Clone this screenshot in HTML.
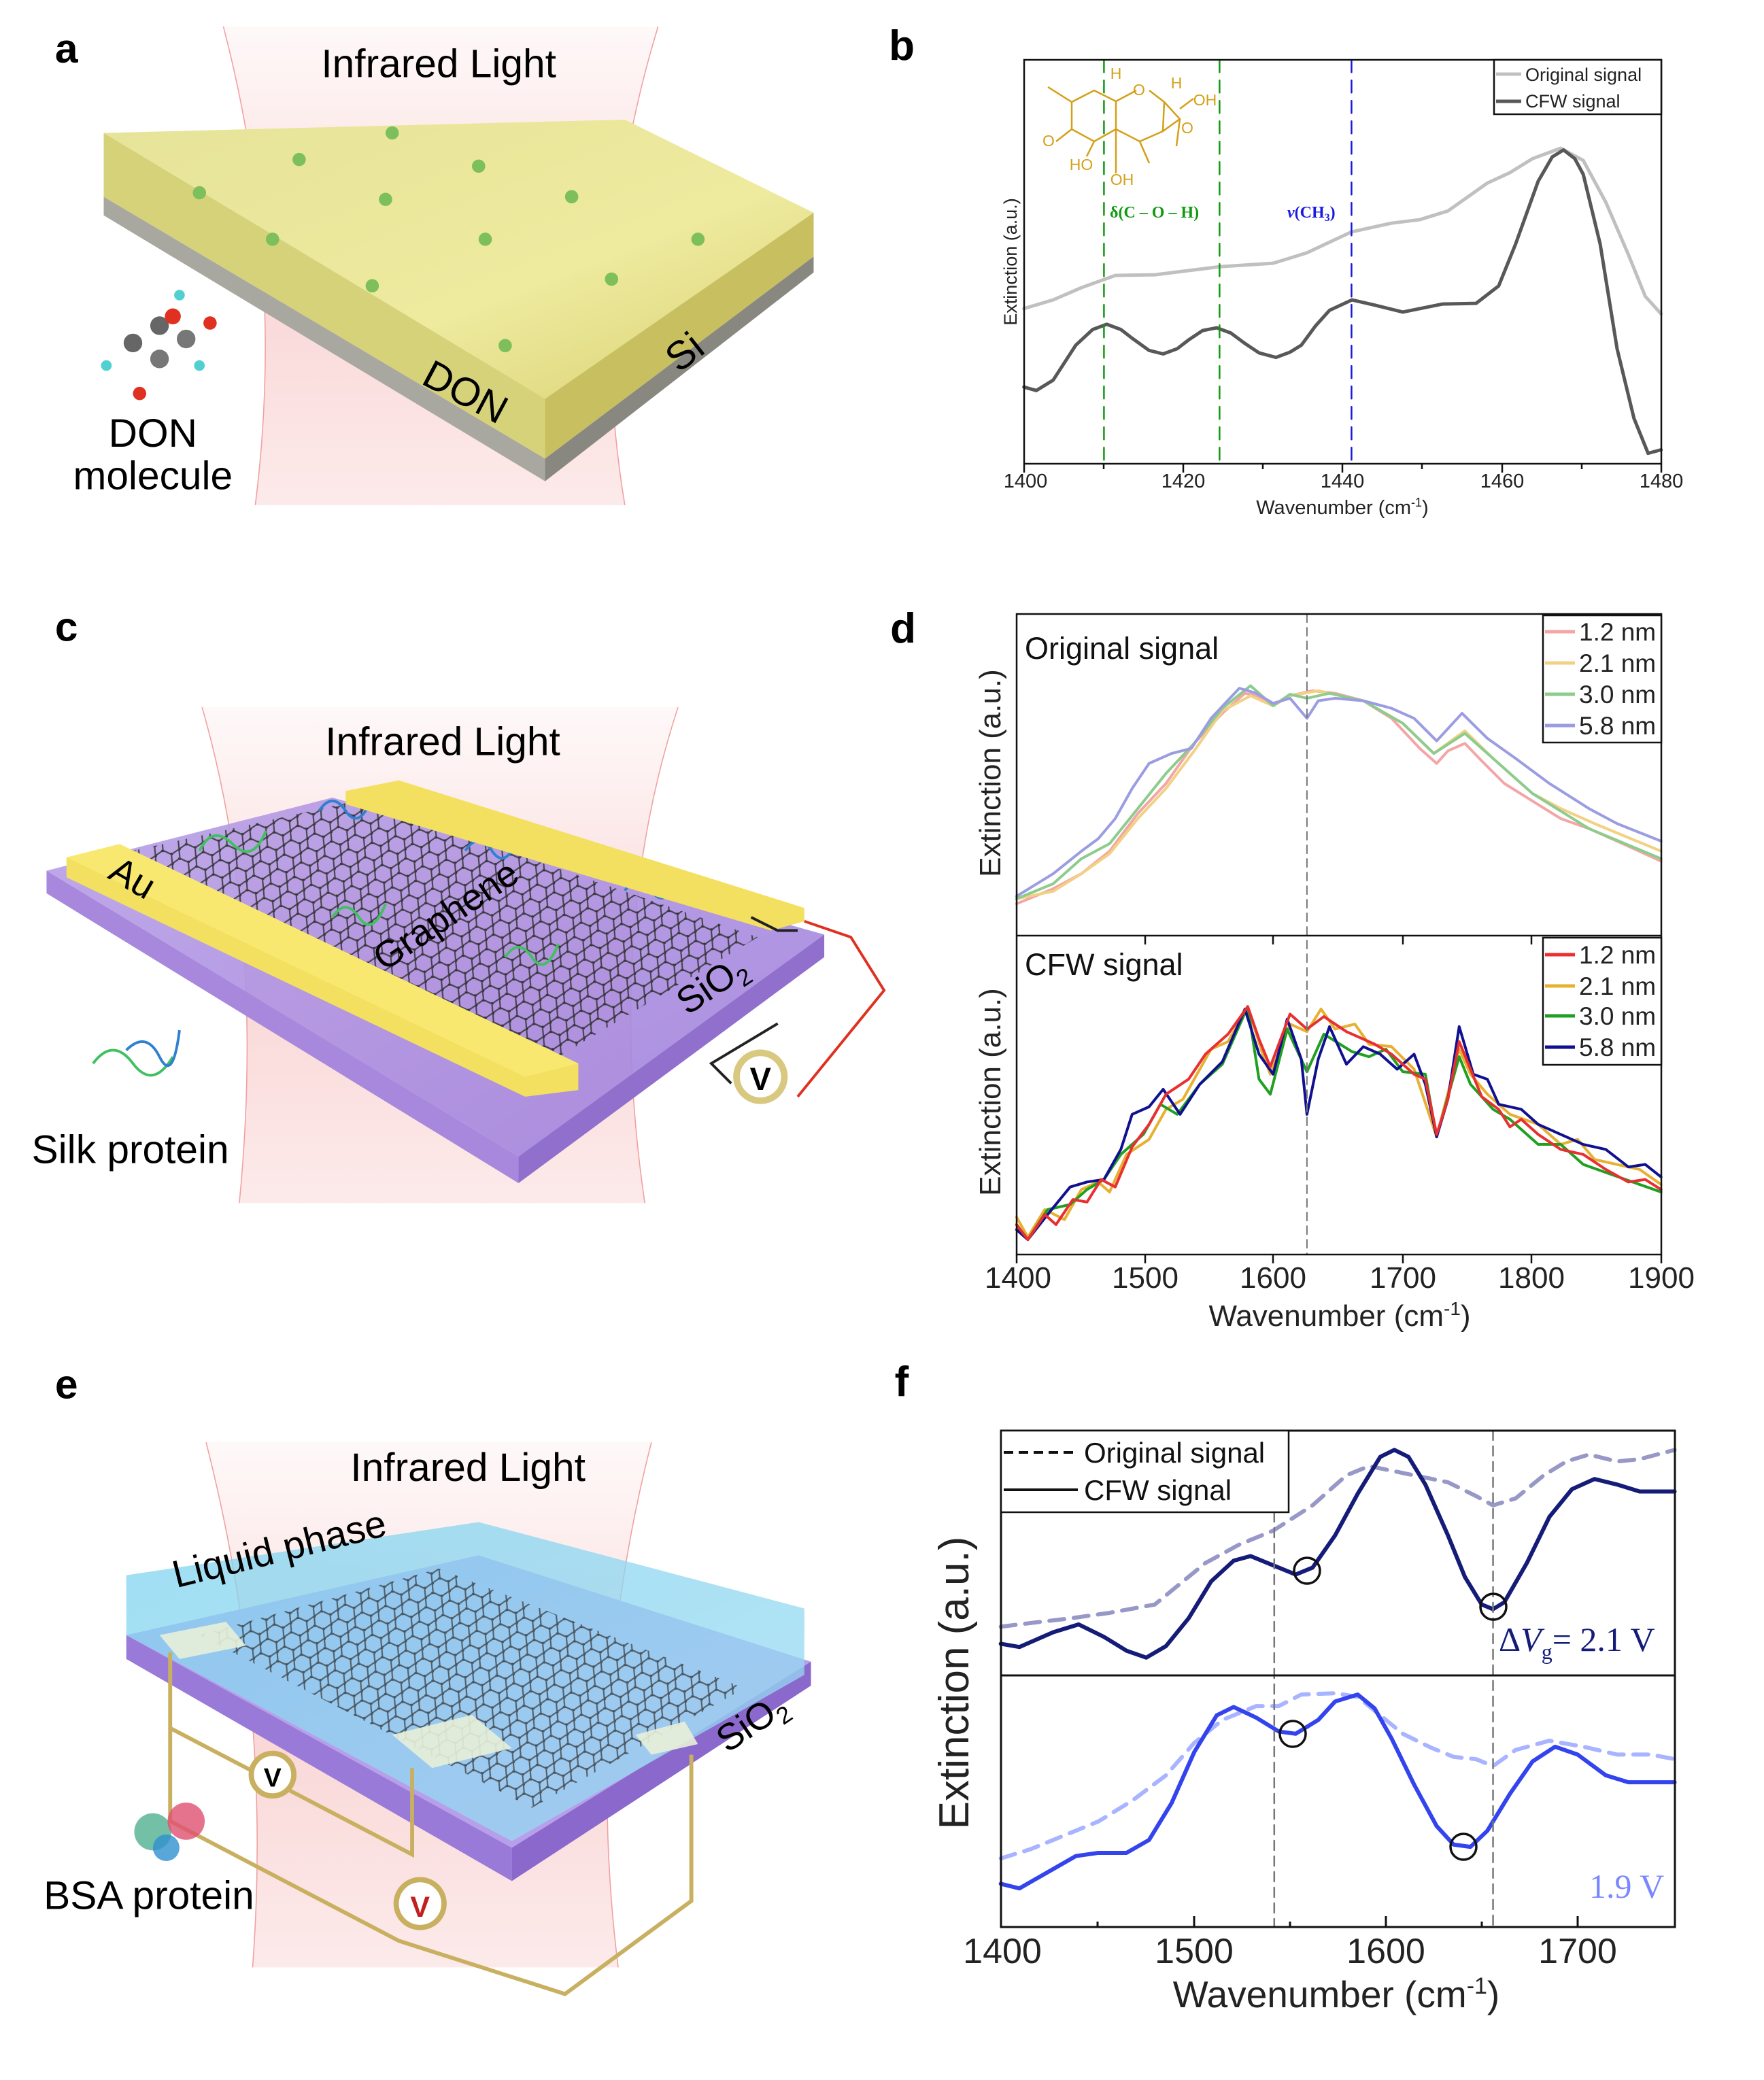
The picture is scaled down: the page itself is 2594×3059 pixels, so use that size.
<!DOCTYPE html>
<html><head><meta charset="utf-8"><style>
html,body{margin:0;padding:0;background:#fff;}
svg{display:block;font-family:"Liberation Sans",Arial,sans-serif;}
.np{vector-effect:non-scaling-stroke;fill:none;stroke-linejoin:round;stroke-linecap:round;}
</style></head><body>
<svg width="2594" height="3059" viewBox="0 0 2594 3059" xmlns="http://www.w3.org/2000/svg">
<defs>
<linearGradient id="cone" x1="0" y1="0" x2="0" y2="1">
<stop offset="0" stop-color="#fde8e8" stop-opacity="0.3"/><stop offset="0.5" stop-color="#f9d4d4"/><stop offset="1" stop-color="#fbdcdc" stop-opacity="0.6"/></linearGradient>
<linearGradient id="yel" x1="0" y1="0" x2="1" y2="1"><stop offset="0" stop-color="#e6e49a"/><stop offset="0.6" stop-color="#eeea9e"/><stop offset="1" stop-color="#d8d070"/></linearGradient>
<linearGradient id="pur" x1="0" y1="0" x2="1" y2="1"><stop offset="0" stop-color="#b9a0e6"/><stop offset="1" stop-color="#9f7fdc"/></linearGradient>
<linearGradient id="water" x1="0" y1="0" x2="1" y2="1"><stop offset="0" stop-color="#7fd4f0"/><stop offset="1" stop-color="#9fdaf2"/></linearGradient>
<pattern id="hex" width="14" height="12" patternUnits="userSpaceOnUse" patternTransform="rotate(25)">
<path d="M0 6 L3.5 0 L10.5 0 L14 6 L10.5 12 L3.5 12 Z" fill="none" stroke="#333" stroke-width="1.1"/>
<circle cx="3.5" cy="0" r="1.3" fill="#222"/><circle cx="10.5" cy="12" r="1.3" fill="#222"/><circle cx="0" cy="6" r="1.3" fill="#222"/></pattern>
</defs>

<!-- ===== LEFT ILLUSTRATIONS (overview coords x1.955) ===== -->
<g transform="scale(1.955)">
<!-- panel a -->
<path d="M168 20 Q215 200 192 380 L470 380 Q440 200 495 20 Z" fill="url(#cone)"/>
<path d="M168 20 Q215 200 192 380 M495 20 Q440 200 470 380" fill="none" stroke="#f0a0a0" stroke-width="0.8"/>
<polygon points="78,100 470,90 612,160 410,300" fill="url(#yel)"/>
<polygon points="78,100 410,300 410,345 78,148" fill="#d6d27a"/>
<polygon points="410,300 612,160 612,193 410,345" fill="#c8c060"/>
<polygon points="78,148 410,345 410,362 78,162" fill="#a8a8a0"/>
<polygon points="410,345 612,193 612,205 410,362" fill="#888880"/>
<g fill="#7dbf5a"><circle cx="150" cy="145" r="5"/><circle cx="205" cy="180" r="5"/><circle cx="290" cy="150" r="5"/><circle cx="360" cy="125" r="5"/><circle cx="430" cy="148" r="5"/><circle cx="280" cy="215" r="5"/><circle cx="460" cy="210" r="5"/><circle cx="380" cy="260" r="5"/><circle cx="525" cy="180" r="5"/><circle cx="365" cy="180" r="5"/><circle cx="225" cy="120" r="5"/><circle cx="295" cy="100" r="5"/></g>
<g><circle cx="100" cy="258" r="7" fill="#666"/><circle cx="120" cy="245" r="7" fill="#666"/><circle cx="140" cy="255" r="7" fill="#777"/><circle cx="130" cy="238" r="6" fill="#e03020"/><circle cx="105" cy="296" r="5" fill="#e03020"/><circle cx="158" cy="243" r="5" fill="#e03020"/><circle cx="80" cy="275" r="4" fill="#50d0d0"/><circle cx="150" cy="275" r="4" fill="#50d0d0"/><circle cx="120" cy="270" r="7" fill="#777"/><circle cx="135" cy="222" r="4" fill="#50d0d0"/></g>
<text x="50" y="47" font-size="31" font-weight="bold" text-anchor="middle">a</text>
<text x="330" y="58" font-size="30" text-anchor="middle">Infrared Light</text>
<text x="115" y="336" font-size="30" text-anchor="middle">DON</text>
<text x="115" y="368" font-size="30" text-anchor="middle">molecule</text>
<text x="350" y="305" font-size="30" text-anchor="middle" transform="rotate(28 350 295)">DON</text>
<text x="515" y="275" font-size="30" text-anchor="middle" transform="rotate(-38 515 265)">Si</text>

<!-- panel c -->
<path d="M152 532 Q200 700 180 905 L485 905 Q455 700 510 532 Z" fill="url(#cone)"/>
<path d="M152 532 Q200 700 180 905 M510 532 Q455 700 485 905" fill="none" stroke="#f0a0a0" stroke-width="0.8"/>
<polygon points="35,655 250,600 620,703 390,870" fill="url(#pur)" opacity="0.9"/>
<polygon points="35,655 390,870 390,890 35,672" fill="#a888dd"/>
<polygon points="390,870 620,703 620,720 390,890" fill="#9070cc"/>
<polygon points="100,640 270,602 570,705 420,795" fill="url(#hex)" opacity="0.85"/>
<g fill="none" stroke-width="2"><path d="M150 640 q10 -20 25 -5 t25 -10" stroke="#40c060"/><path d="M240 610 q10 -15 20 0 t20 -10" stroke="#3080d0"/><path d="M350 640 q10 -15 20 0 t20 -10" stroke="#3080d0"/><path d="M250 690 q10 -15 20 0 t20 -10" stroke="#40c060"/><path d="M380 720 q10 -15 20 0 t20 -10" stroke="#40c060"/><path d="M470 670 q10 -15 20 0 t20 -10" stroke="#3080d0"/></g>
<polygon points="50,645 90,635 435,800 435,820 395,825 50,660" fill="#f3e060"/>
<polygon points="50,645 90,635 435,800 395,810" fill="#f8e870"/>
<polygon points="260,595 300,587 605,683 605,693 580,700 260,605" fill="#f3e060"/>
<g fill="none" stroke-width="2"><path d="M565 690 L585 700 L600 700" stroke="#222"/><path d="M605 693 L640 705 L665 745 L600 825" stroke="#e03020"/><path d="M585 770 L535 800 L550 815" stroke="#222"/></g>
<circle cx="572" cy="810" r="18" fill="#fff" stroke="#d8c880" stroke-width="5"/>
<text x="572" y="820" font-size="24" font-weight="bold" text-anchor="middle">V</text>
<g fill="none" stroke-width="2"><path d="M70 800 q15 -20 30 0 t30 -5" stroke="#40c060"/><path d="M95 790 q15 -15 25 5 t15 -20" stroke="#3080d0"/></g>
<text x="50" y="482" font-size="31" font-weight="bold" text-anchor="middle">c</text>
<text x="333" y="568" font-size="30" text-anchor="middle">Infrared Light</text>
<text x="98" y="875" font-size="30" text-anchor="middle">Silk protein</text>
<text x="100" y="670" font-size="28" transform="rotate(30 100 660)" text-anchor="middle">Au</text>
<text x="335" y="698" font-size="28" transform="rotate(-34 335 688)" text-anchor="middle">Graphene</text>
<text x="535" y="750" font-size="28" transform="rotate(-34 535 740)" text-anchor="middle">SiO<tspan font-size="18" dy="6">2</tspan></text>

<!-- panel e -->
<path d="M155 1085 Q205 1280 190 1480 L465 1480 Q440 1280 490 1085 Z" fill="url(#cone)"/>
<path d="M155 1085 Q205 1280 190 1480 M490 1085 Q440 1280 465 1480" fill="none" stroke="#f0a0a0" stroke-width="0.8"/>
<polygon points="95,1230 360,1170 610,1250 385,1390" fill="#b6a0ea"/>
<polygon points="95,1230 385,1390 385,1415 95,1248" fill="#9a7ad8"/>
<polygon points="385,1390 610,1250 610,1268 385,1415" fill="#8a68cc"/>
<polygon points="95,1185 360,1145 605,1210 605,1260 385,1385 95,1230" fill="url(#water)" opacity="0.75"/>
<polygon points="150,1230 330,1180 560,1270 400,1360" fill="url(#hex)" opacity="0.7"/>
<g fill="#e8f0d8" opacity="0.9"><polygon points="120,1230 170,1220 185,1238 135,1248"/><polygon points="295,1305 355,1290 385,1315 325,1330"/><polygon points="478,1305 515,1295 525,1312 490,1320"/></g>
<g fill="none" stroke="#c8b060" stroke-width="3"><path d="M128 1243 L128 1300 L310 1395 L310 1330"/><path d="M128 1300 L128 1370 L300 1460 L425 1500 L520 1430 L520 1320"/></g>
<circle cx="205" cy="1335" r="16" fill="#fff" stroke="#c8b060" stroke-width="4"/><text x="205" y="1344" font-size="20" font-weight="bold" text-anchor="middle">V</text>
<circle cx="316" cy="1432" r="18" fill="#fff" stroke="#c8b060" stroke-width="4"/><text x="316" y="1442" font-size="22" font-weight="bold" fill="#c02020" text-anchor="middle">V</text>
<g><circle cx="115" cy="1378" r="14" fill="#50b090" opacity="0.8"/><circle cx="140" cy="1370" r="14" fill="#e05070" opacity="0.8"/><circle cx="125" cy="1390" r="10" fill="#3090d0" opacity="0.8"/></g>
<text x="50" y="1052" font-size="31" font-weight="bold" text-anchor="middle">e</text>
<text x="352" y="1114" font-size="30" text-anchor="middle">Infrared Light</text>
<text x="112" y="1436" font-size="30" text-anchor="middle">BSA protein</text>
<text x="210" y="1175" font-size="29" transform="rotate(-14 210 1165)" text-anchor="middle">Liquid phase</text>
<text x="565" y="1305" font-size="28" transform="rotate(-34 565 1295)" text-anchor="middle">SiO<tspan font-size="18" dy="6">2</tspan></text>
</g>

<!-- ===== PANEL b ===== -->
<text x="1326" y="88" font-size="62" font-weight="bold" text-anchor="middle">b</text>
<g transform="translate(1300,0) scale(0.8292,0.5128)">
<path class="np" stroke="#c0c0c0" stroke-width="5" d="M248 885 L300 860 L350 825 L410 790 L480 788 L595 765 L690 755 L750 725 L829 665 L900 640 L950 630 L1000 605 L1070 525 L1110 495 L1150 455 L1200 425 L1240 460 L1280 580 L1320 730 L1350 850 L1378 900"/>
<path class="np" stroke="#585858" stroke-width="5" d="M248 1110 L270 1120 L300 1090 L340 990 L370 945 L395 930 L420 945 L440 970 L470 1005 L495 1015 L520 1000 L540 975 L565 948 L590 940 L615 955 L640 985 L665 1012 L695 1025 L720 1010 L740 990 L765 935 L790 890 L830 860 L870 875 L920 895 L990 872 L1050 870 L1090 820 L1120 700 L1160 520 L1185 450 L1205 430 L1225 455 L1240 500 L1270 700 L1300 1000 L1330 1200 L1355 1300 L1378 1290"/>
<path class="np" stroke="#109a10" stroke-width="2.5" stroke-dasharray="18 12" d="M390 172 L390 1330 M595 172 L595 1330"/>
<path class="np" stroke="#1a1ae0" stroke-width="2.5" stroke-dasharray="18 12" d="M829 172 L829 1330"/>
</g>
<rect x="1506" y="88" width="937" height="594" fill="none" stroke="#111" stroke-width="2.5"/>
<g stroke="#111" stroke-width="2.5">
<line x1="1506" y1="682" x2="1506" y2="695"/><line x1="1740" y1="682" x2="1740" y2="695"/><line x1="1974" y1="682" x2="1974" y2="695"/><line x1="2209" y1="682" x2="2209" y2="695"/><line x1="2443" y1="682" x2="2443" y2="695"/>
<line x1="1623" y1="682" x2="1623" y2="690"/><line x1="1857" y1="682" x2="1857" y2="690"/><line x1="2091" y1="682" x2="2091" y2="690"/><line x1="2326" y1="682" x2="2326" y2="690"/>
</g>
<g font-size="29" fill="#222" text-anchor="middle">
<text x="1508" y="717">1400</text><text x="1740" y="717">1420</text><text x="1974" y="717">1440</text><text x="2209" y="717">1460</text><text x="2443" y="717">1480</text>
<text x="1974" y="756">Wavenumber (cm<tspan font-size="18" dy="-11">-1</tspan><tspan dy="11">)</tspan></text>
<text x="1486" y="385" font-size="27" transform="rotate(-90 1486 385)" dy="9">Extinction (a.u.)</text>
</g>
<rect x="2197" y="88" width="246" height="80" fill="#fff" stroke="#111" stroke-width="2.5"/>
<line x1="2200" y1="109" x2="2237" y2="109" stroke="#c0c0c0" stroke-width="5"/>
<line x1="2200" y1="149" x2="2237" y2="149" stroke="#585858" stroke-width="5"/>
<text x="2243" y="119" font-size="27" fill="#222">Original signal</text>
<text x="2243" y="158" font-size="27" fill="#222">CFW  signal</text>
<text x="1632" y="320" font-size="24" font-weight="bold" fill="#109a10" font-family="Liberation Serif,serif">δ(C – O – H)</text>
<text x="1893" y="320" font-size="24" font-weight="bold" font-style="italic" fill="#1a1ae0" font-family="Liberation Serif,serif">ν<tspan font-style="normal">(CH<tspan font-size="16" dy="5">3</tspan><tspan dy="-5">)</tspan></tspan></text>
<g stroke="#d4a017" stroke-width="2.5" fill="none">
<path d="M1541 128 L1576 150 L1609 133 L1641 149 L1641 190 L1609 208 L1576 190 L1576 150"/>
<path d="M1576 190 L1553 208"/><path d="M1641 149 L1671 133"/><path d="M1641 190 L1676 208 L1710 193 L1712 150 L1690 133"/>
<path d="M1712 150 L1735 175 L1710 193"/><path d="M1735 175 L1730 215"/><path d="M1676 208 L1690 240"/><path d="M1641 190 L1641 255"/><path d="M1609 208 L1598 230"/><path d="M1735 160 L1755 145"/>
</g>
<g font-size="23" fill="#d4a017" text-anchor="middle">
<text x="1641" y="116">H</text><text x="1675" y="140">O</text><text x="1730" y="130">H</text><text x="1772" y="155">OH</text><text x="1746" y="196">O</text><text x="1542" y="215">O</text><text x="1590" y="250">HO</text><text x="1650" y="272">OH</text>
</g>

<!-- ===== PANEL d ===== -->
<text x="1328" y="945" font-size="62" font-weight="bold" text-anchor="middle">d</text>
<g transform="translate(1300,850) scale(0.8292,0.7372)">
<path class="np" stroke="#f4a6a6" stroke-width="4" d="M235 650 L300 620 L350 590 L400 545 L450 470 L500 410 L550 330 L600 270 L640 230 L660 235 L690 255 L720 235 L760 225 L800 230 L850 245 L900 280 L950 340 L980 370 L1000 345 L1030 330 L1060 365 L1100 410 L1150 445 L1200 480 L1250 500 L1300 525 L1378 565"/>
<path class="np" stroke="#f2d084" stroke-width="4" d="M235 640 L300 625 L350 590 L400 550 L450 480 L500 420 L550 345 L600 265 L650 235 L690 255 L720 235 L770 225 L850 245 L920 290 L975 350 L1030 305 L1080 360 L1150 430 L1200 460 L1260 490 L1378 545"/>
<path class="np" stroke="#8ccc8c" stroke-width="4" d="M235 640 L300 610 L350 560 L400 530 L450 460 L500 390 L550 330 L600 260 L650 215 L690 255 L720 232 L750 240 L790 230 L850 245 L920 290 L975 350 L1030 310 L1080 360 L1150 430 L1250 500 L1378 560"/>
<path class="np" stroke="#9c9ce2" stroke-width="4" d="M235 635 L300 590 L350 545 L380 520 L410 480 L440 420 L470 370 L510 350 L545 340 L580 280 L630 220 L660 230 L690 250 L720 240 L750 280 L770 245 L800 240 L850 245 L900 260 L940 280 L980 325 L1025 270 L1070 320 L1120 360 L1180 410 L1250 460 L1300 490 L1378 525"/>
<path class="np" stroke="#e8b030" stroke-width="4" d="M235 1275 L255 1315 L285 1260 L320 1280 L350 1220 L380 1205 L400 1225 L430 1150 L470 1120 L500 1060 L530 1040 L580 940 L610 925 L645 855 L670 945 L685 990 L720 890 L750 905 L775 860 L800 900 L835 890 L860 930 L900 935 L940 980 L980 1115 L1020 940 L1040 990 L1070 1030 L1110 1070 L1160 1090 L1200 1130 L1230 1120 L1260 1160 L1300 1170 L1340 1180 L1378 1210"/>
<path class="np" stroke="#20a020" stroke-width="4" d="M235 1290 L255 1320 L290 1260 L330 1250 L360 1220 L390 1200 L420 1150 L460 1110 L490 1050 L520 1070 L560 1010 L600 970 L645 855 L665 1000 L685 1030 L715 900 L750 985 L780 910 L830 945 L860 955 L890 940 L920 985 L960 990 L980 1115 L1020 955 L1040 1010 L1080 1060 L1110 1080 L1160 1130 L1200 1130 L1240 1170 L1290 1190 L1340 1210 L1378 1225"/>
<path class="np" stroke="#101090" stroke-width="4" d="M235 1300 L255 1320 L290 1270 L330 1215 L360 1205 L390 1200 L420 1140 L440 1070 L470 1055 L495 1020 L525 1070 L560 1010 L600 965 L640 860 L665 950 L690 990 L715 880 L740 960 L750 1070 L770 960 L790 895 L820 970 L850 935 L880 950 L910 980 L940 950 L960 1010 L980 1115 L1000 1040 L1020 895 L1045 990 L1070 1000 L1090 1050 L1130 1060 L1160 1090 L1200 1110 L1240 1130 L1280 1140 L1320 1175 L1350 1170 L1378 1195"/>
<path class="np" stroke="#e83030" stroke-width="4" d="M235 1290 L255 1320 L285 1270 L305 1290 L335 1240 L360 1245 L385 1200 L410 1215 L440 1135 L470 1090 L500 1030 L540 1000 L570 950 L610 910 L645 855 L665 920 L685 975 L700 930 L720 870 L750 900 L780 875 L820 905 L870 930 L900 950 L940 990 L960 1000 L980 1110 L1000 1040 L1020 925 L1040 980 L1060 1035 L1090 1060 L1110 1095 L1130 1080 L1160 1110 L1200 1140 L1240 1150 L1280 1180 L1320 1205 L1350 1200 L1378 1220"/>
<path class="np" stroke="#777" stroke-width="2" stroke-dasharray="12 8" d="M750 72 L750 1350"/>
</g>
<rect x="1495" y="903" width="948" height="942" fill="none" stroke="#111" stroke-width="2.5"/>
<line x1="1495" y1="1376" x2="2443" y2="1376" stroke="#111" stroke-width="2.5"/>
<g stroke="#111" stroke-width="2.5">
<line x1="1495" y1="1845" x2="1495" y2="1858"/><line x1="1684" y1="1845" x2="1684" y2="1858"/><line x1="1872" y1="1845" x2="1872" y2="1858"/><line x1="2063" y1="1845" x2="2063" y2="1858"/><line x1="2252" y1="1845" x2="2252" y2="1858"/><line x1="2443" y1="1845" x2="2443" y2="1858"/>
<line x1="1684" y1="1376" x2="1684" y2="1389"/><line x1="1872" y1="1376" x2="1872" y2="1389"/><line x1="2063" y1="1376" x2="2063" y2="1389"/><line x1="2252" y1="1376" x2="2252" y2="1389"/>
</g>
<g font-size="44" fill="#222" text-anchor="middle">
<text x="1497" y="1894">1400</text><text x="1684" y="1894">1500</text><text x="1872" y="1894">1600</text><text x="2063" y="1894">1700</text><text x="2252" y="1894">1800</text><text x="2443" y="1894">1900</text>
<text x="1970" y="1950">Wavenumber (cm<tspan font-size="28" dy="-16">-1</tspan><tspan dy="16">)</tspan></text>
<text x="1457" y="1137" transform="rotate(-90 1457 1137)" dy="14">Extinction (a.u.)</text>
<text x="1457" y="1606" transform="rotate(-90 1457 1606)" dy="14">Extinction (a.u.)</text>
</g>
<text x="1507" y="969" font-size="45" fill="#111">Original signal</text>
<text x="1507" y="1434" font-size="45" fill="#111">CFW signal</text>
<rect x="2269" y="905" width="174" height="187" fill="#fff" stroke="#111" stroke-width="2.5"/>
<rect x="2269" y="1379" width="174" height="187" fill="#fff" stroke="#111" stroke-width="2.5"/>
<g stroke-width="5">
<line x1="2272" y1="929" x2="2316" y2="929" stroke="#f4a6a6"/><line x1="2272" y1="975" x2="2316" y2="975" stroke="#f2d084"/><line x1="2272" y1="1021" x2="2316" y2="1021" stroke="#8ccc8c"/><line x1="2272" y1="1067" x2="2316" y2="1067" stroke="#9c9ce2"/>
<line x1="2272" y1="1404" x2="2316" y2="1404" stroke="#e83030"/><line x1="2272" y1="1450" x2="2316" y2="1450" stroke="#e8b030"/><line x1="2272" y1="1494" x2="2316" y2="1494" stroke="#20a020"/><line x1="2272" y1="1540" x2="2316" y2="1540" stroke="#101090"/>
</g>
<g font-size="37" fill="#222">
<text x="2322" y="942">1.2 nm</text><text x="2322" y="988">2.1 nm</text><text x="2322" y="1034">3.0 nm</text><text x="2322" y="1080">5.8 nm</text>
<text x="2322" y="1417">1.2 nm</text><text x="2322" y="1463">2.1 nm</text><text x="2322" y="1507">3.0 nm</text><text x="2322" y="1553">5.8 nm</text>
</g>

<!-- ===== PANEL f ===== -->
<text x="1326" y="2053" font-size="62" font-weight="bold" text-anchor="middle">f</text>
<g transform="translate(1300,2000) scale(0.8292,0.6788)">
<path class="np" stroke="#9898c8" stroke-width="6" stroke-dasharray="22 14" d="M207 578 L260 570 L330 560 L400 548 L480 530 L520 490 L570 440 L630 400 L690 370 L760 315 L820 250 L860 230 L900 240 L940 250 L1000 265 L1050 295 L1080 315 L1120 300 L1170 250 L1210 220 L1250 205 L1300 220 L1340 215 L1402 195"/>
<path class="np" stroke="#a8b4ff" stroke-width="6" stroke-dasharray="22 14" d="M207 1080 L260 1060 L320 1030 L380 1000 L440 955 L500 900 L550 830 L600 780 L660 750 L700 750 L740 725 L800 722 L840 730 L880 770 L920 810 L970 840 L1010 860 L1050 865 L1080 880 L1120 845 L1180 825 L1240 838 L1300 855 L1360 855 L1402 865"/>
<path class="np" stroke="#141c78" stroke-width="6" d="M207 615 L240 622 L300 590 L345 573 L390 600 L430 630 L465 645 L500 620 L540 560 L580 480 L620 435 L650 425 L690 445 L730 465 L760 450 L800 380 L840 290 L880 210 L905 195 L930 210 L960 270 L1000 380 L1030 470 L1060 530 L1080 540 L1100 525 L1140 440 L1180 340 L1220 280 L1260 258 L1300 270 L1340 285 L1402 285"/>
<path class="np" stroke="#3344ee" stroke-width="6" d="M207 1135 L240 1145 L290 1110 L340 1075 L380 1068 L430 1068 L470 1040 L510 960 L550 850 L590 770 L620 752 L660 775 L700 805 L730 810 L770 780 L800 740 L840 725 L870 755 L900 820 L940 920 L980 1010 L1010 1050 L1040 1055 L1070 1020 L1110 940 L1150 870 L1190 838 L1230 855 L1280 900 L1320 915 L1402 915"/>
<path class="np" stroke="#777" stroke-width="2.5" stroke-dasharray="14 9" d="M692 330 L692 1228 M1080 153 L1080 1228"/>
</g>
<g fill="none" stroke="#111" stroke-width="3.5">
<circle cx="1922" cy="2310" r="19"/><circle cx="2196" cy="2363" r="19"/><circle cx="1901" cy="2550" r="19"/><circle cx="2152" cy="2716" r="19"/>
</g>
<rect x="1472" y="2104" width="991" height="730" fill="none" stroke="#111" stroke-width="3"/>
<line x1="1472" y1="2464" x2="2463" y2="2464" stroke="#111" stroke-width="3"/>
<g stroke="#111" stroke-width="3">
<line x1="1756" y1="2834" x2="1756" y2="2818"/><line x1="2038" y1="2834" x2="2038" y2="2818"/><line x1="2320" y1="2834" x2="2320" y2="2818"/>
<line x1="1614" y1="2834" x2="1614" y2="2826"/><line x1="1897" y1="2834" x2="1897" y2="2826"/><line x1="2179" y1="2834" x2="2179" y2="2826"/>
</g>
<g font-size="52" fill="#222" text-anchor="middle">
<text x="1474" y="2887">1400</text><text x="1756" y="2887">1500</text><text x="2038" y="2887">1600</text><text x="2320" y="2887">1700</text>
<text x="1965" y="2952" font-size="55">Wavenumber (cm<tspan font-size="34" dy="-20">-1</tspan><tspan dy="20">)</tspan></text>
<text x="1404" y="2475" font-size="62" transform="rotate(-90 1404 2475)" dy="20">Extinction (a.u.)</text>
</g>
<rect x="1472" y="2104" width="423" height="120" fill="#fff" stroke="#111" stroke-width="2.5"/>
<line x1="1476" y1="2136" x2="1585" y2="2136" stroke="#111" stroke-width="4" stroke-dasharray="14 8"/>
<line x1="1476" y1="2191" x2="1585" y2="2191" stroke="#111" stroke-width="4"/>
<text x="1594" y="2151" font-size="42" fill="#111">Original signal</text>
<text x="1594" y="2206" font-size="42" fill="#111">CFW signal</text>
<text x="2204" y="2428" font-size="50" fill="#141c78" font-family="Liberation Serif,serif">Δ<tspan font-style="italic">V</tspan><tspan font-size="32" dy="12">g</tspan><tspan dy="-12">= 2.1 V</tspan></text>
<text x="2337" y="2791" font-size="50" fill="#7a88ff" font-family="Liberation Serif,serif">1.9 V</text>
</svg>
</body></html>
